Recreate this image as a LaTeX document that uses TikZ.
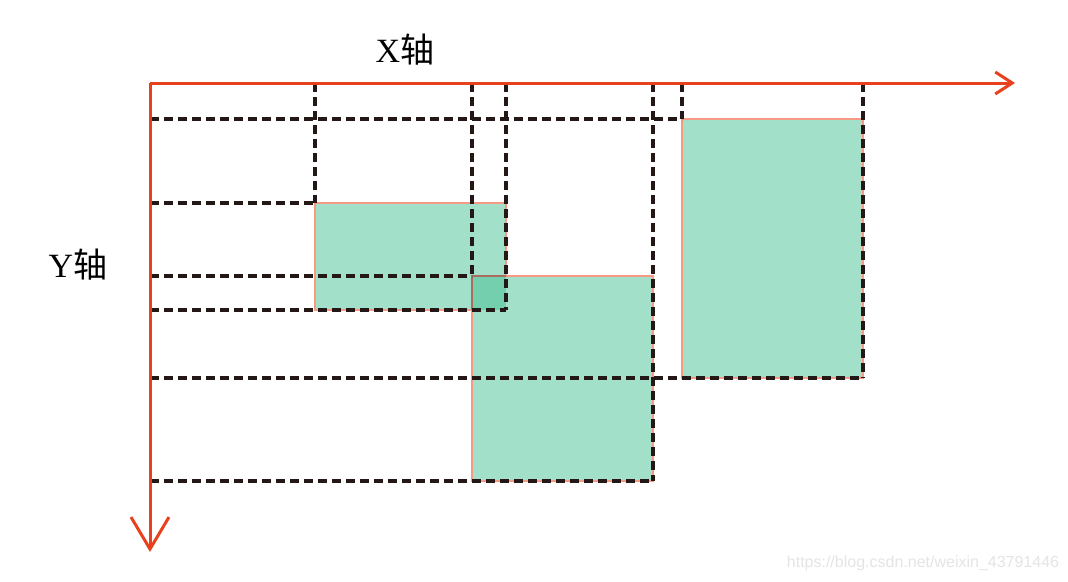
\documentclass[tikz,border=0pt]{standalone}
\usepackage{fontspec}
\setmainfont{Liberation Serif}
\newfontfamily\cjk{Noto Sans CJK SC}
\usetikzlibrary{arrows.meta}
\definecolor{boxfill}{HTML}{A3E0C9}
\definecolor{overlapfill}{HTML}{73CFAD}
\definecolor{boxedge}{HTML}{F59B85}
\definecolor{axiscol}{HTML}{E8411E}
\definecolor{dashcol}{HTML}{231815}
\definecolor{wmark}{HTML}{E4E4E4}
\tikzset{
  boxstyle/.style={fill=boxfill, draw=boxedge, line width=2.5pt},
  guide/.style={draw=dashcol, line width=4pt, dash pattern=on 9pt off 5pt},
  axisline/.style={draw=axiscol, line width=3pt},
  lbl/.style={font=\fontsize{34}{38}\selectfont, inner sep=0pt}
}
\begin{document}
\begin{tikzpicture}[x=1pt,y=-1pt]
\useasboundingbox (0,0) rectangle (1068,581);
% origin
\coordinate (O) at (150,83);
% rectangles
\coordinate (A1) at (315,203); \coordinate (A2) at (506,310);
\coordinate (B1) at (472,276); \coordinate (B2) at (653,481);
\coordinate (C1) at (682,119); \coordinate (C2) at (863,378);
\draw[boxstyle] (A1) rectangle (A2);
\draw[boxstyle] (B1) rectangle (B2);
\draw[boxstyle] (C1) rectangle (C2);
\fill[overlapfill] (B1) rectangle (A2);
\draw[draw=boxedge!70!black, line width=2.5pt] (A2 |- B1) -- (B1) -- (B1 |- A2);
% guide lines (horizontal)
\draw[guide] (O |- C1) -- (C1);
\draw[guide] (O |- A1) -- (A1);
\draw[guide] (O |- B1) -- (B1);
\draw[guide] (O |- A2) -- (A2);
\draw[guide] (O |- C2) -- (C2);
\draw[guide] (O |- B2) -- (B2);
% guide lines (vertical)
\draw[guide] (A1 |- O) -- (A1);
\draw[guide] (B1 |- O) -- (B1);
\draw[guide] (A2 |- O) -- (A2);
\draw[guide] (B2 |- O) -- (B2);
\draw[guide] (C1 |- O) -- (C1);
\draw[guide] (C2 |- O) -- (C2);
% axes
\coordinate (Xend) at (1015,83);
\coordinate (Yend) at (150,552);
\draw[axisline, -{Straight Barb[length=17pt,width=22pt,line width=3pt]}] (O) -- (Xend);
\draw[axisline, -{Straight Barb[length=32pt,width=38pt,line width=3pt]}] (O) -- (Yend);
% labels
\node[lbl] (xl) at (405,50) {X\cjk 轴};
\node[lbl] (yl) at (78,265) {Y\cjk 轴};
\node[font=\fontsize{16}{18}\selectfont\fontspec{Liberation Sans}, text=wmark, inner sep=0pt] (wm) at (923,563) {https://blog.csdn.net/weixin\_43791446};
\end{tikzpicture}
\end{document}
